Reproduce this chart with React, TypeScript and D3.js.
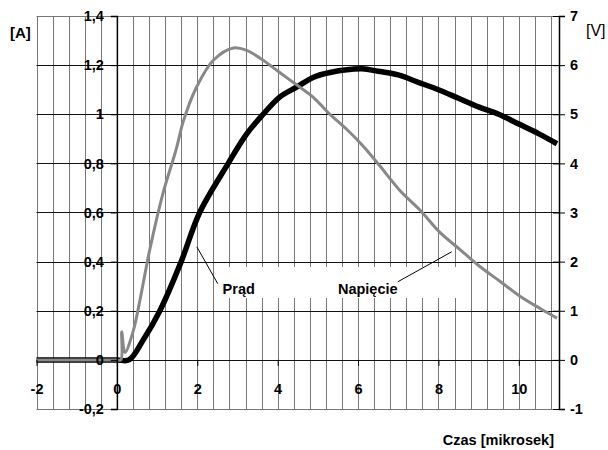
import React, { useEffect, useRef } from 'react';
import * as d3 from 'd3';

// Prąd (current, left axis, A)
const timePrad = [-2, -1, 0, 0.3, 0.65, 1.07, 1.6, 2.06, 2.77, 3.23, 3.64, 4.05, 4.47, 4.88, 5.3, 6.1, 6.5, 7.0, 7.5, 8.0, 8.5, 9.0, 9.5, 10.0, 10.5, 10.95];
const prad = [0, 0, 0, 0, 0.08, 0.2, 0.4, 0.6, 0.8, 0.92, 1.0, 1.07, 1.11, 1.15, 1.17, 1.185, 1.175, 1.16, 1.13, 1.1, 1.065, 1.03, 1.0, 0.96, 0.92, 0.88];

// Napięcie (voltage, right axis, V)
const timeNapiecie = [-2, -1, 0, 0.1, 0.12, 0.2, 0.41, 0.57, 0.82, 1.15, 1.48, 1.65, 1.98, 2.4, 2.9, 3.23, 3.64, 4.05, 4.47, 4.88, 5.3, 5.71, 6.13, 6.54, 7.04, 7.54, 8.03, 8.53, 9.03, 9.53, 10.02, 10.52, 10.95];
const napiecie = [0, 0, 0, 0, 0.57, 0.15, 0.6, 1.2, 2.25, 3.4, 4.3, 4.85, 5.55, 6.1, 6.35, 6.3, 6.1, 5.85, 5.6, 5.35, 5.0, 4.7, 4.35, 3.95, 3.45, 3.05, 2.6, 2.25, 1.9, 1.6, 1.3, 1.05, 0.85];

// axis ticks
const xTicks = [-2, 0, 2, 4, 6, 8, 10];
const ampTicks = [-0.2, 0, 0.2, 0.4, 0.6, 0.8, 1, 1.2, 1.4];
const voltTicks = [-1, 0, 1, 2, 3, 4, 5, 6, 7];

const FONT = '"Liberation Sans", Arial, sans-serif';

const App: React.FC = () => {
  const svgRef = useRef<SVGSVGElement>(null);

  useEffect(() => {
    if (!svgRef.current) return;
    const svg = d3.select(svgRef.current);
    svg.selectAll('*').remove();

    const x = d3.scaleLinear().domain([-2, 11]).range([36.5, 559]);
    const yA = d3.scaleLinear().domain([-0.2, 1.4]).range([409, 16]);
    const yV = d3.scaleLinear().domain([-1, 7]).range([409, 16]);

    svg.append('rect').attr('width', 608).attr('height', 450).attr('fill', '#fff');

    // vertical grid every 0.4 us
    const vGrid = d3.range(0, 33).map(i => -2 + i * 0.4);
    svg.append('g').selectAll('line').data(vGrid).enter().append('line')
      .attr('x1', d => Math.round(x(d)) + 0.5).attr('x2', d => Math.round(x(d)) + 0.5)
      .attr('y1', yA(1.4)).attr('y2', yA(-0.2))
      .attr('stroke', '#777').attr('stroke-width', 1);

    // horizontal grid
    svg.append('g').selectAll('line').data(ampTicks).enter().append('line')
      .attr('x1', x(-2)).attr('x2', x(11))
      .attr('y1', d => Math.round(yA(d)) + 0.5).attr('y2', d => Math.round(yA(d)) + 0.5)
      .attr('stroke', d => (d === -0.2 || d === 1.4 ? '#777' : '#111')).attr('stroke-width', 1);

    // white band behind annotation labels
    svg.append('rect')
      .attr('x', x(2.57)).attr('y', yA(0.378))
      .attr('width', x(8.45) - x(2.57)).attr('height', yA(0.252) - yA(0.378))
      .attr('fill', '#fff');

    // curves
    const pradLine = d3.line<number>()
      .x((_, i) => x(timePrad[i]))
      .y(d => yA(d))
      .curve(d3.curveCatmullRom.alpha(0.5));
    const napLine = d3.line<number>()
      .x((_, i) => x(timeNapiecie[i]))
      .y(d => yV(d))
      .curve(d3.curveCatmullRom.alpha(0.5));

    svg.append('path').datum(prad).attr('d', pradLine)
      .attr('fill', 'none').attr('stroke', '#000').attr('stroke-width', 5.5).attr('stroke-linejoin', 'round');
    svg.append('path').datum(napiecie).attr('d', napLine)
      .attr('fill', 'none').attr('stroke', '#888').attr('stroke-width', 3).attr('stroke-linejoin', 'round');

    // annotations
    svg.append('line')
      .attr('x1', x(1.99)).attr('y1', yA(0.46)).attr('x2', x(2.51)).attr('y2', yA(0.31))
      .attr('stroke', '#000').attr('stroke-width', 1);
    svg.append('text').attr('x', x(2.63)).attr('y', yA(0.27))
      .style('font-family', FONT).style('font-size', '14.5px').style('font-weight', 'bold')
      .text('Prąd');
    svg.append('line')
      .attr('x1', x(6.99)).attr('y1', yV(1.59)).attr('x2', x(8.33)).attr('y2', yV(2.2))
      .attr('stroke', '#000').attr('stroke-width', 1);
    svg.append('text').attr('x', x(5.5)).attr('y', yA(0.27))
      .style('font-family', FONT).style('font-size', '14.5px').style('font-weight', 'bold')
      .text('Napięcie');

    const fmtA = (d: d3.NumberValue) => String(+d).replace('.', ',');

    // left axis
    const gl = svg.append('g').attr('transform', `translate(${x(0)},0)`)
      .call(d3.axisLeft(yA).tickValues(ampTicks).tickFormat(fmtA).tickSize(6).tickPadding(7));
    // right axis
    const gr = svg.append('g').attr('transform', `translate(${x(11)},0)`)
      .call(d3.axisRight(yV).tickValues(voltTicks).tickFormat(d => String(d)).tickSize(6).tickPadding(5));
    gr.selectAll('.tick line').attr('x1', -6);
    // bottom axis
    const gb = svg.append('g').attr('transform', `translate(0,${yA(0)})`)
      .call(d3.axisBottom(x).tickValues(xTicks).tickFormat(d => String(d)).tickSize(6).tickPadding(18));
    gb.select('.domain').remove();

    [gl, gr, gb].forEach(g => {
      g.selectAll('text').style('font-family', FONT).style('font-size', '14.5px')
        .style('font-weight', 'bold').attr('fill', '#000');
      g.selectAll('line').attr('stroke', '#000');
      g.selectAll('.domain').attr('stroke', '#000').attr('stroke-width', 1.5);
    });

    // unit labels
    svg.append('text').attr('x', 10).attr('y', 38)
      .style('font-family', FONT).style('font-size', '15px').style('font-weight', 'bold')
      .text('[A]');
    svg.append('text').attr('x', 586).attr('y', 36)
      .style('font-family', FONT).style('font-size', '16px')
      .text('[V]');
    svg.append('text').attr('x', 554).attr('y', 445).attr('text-anchor', 'end')
      .style('font-family', FONT).style('font-size', '14.5px').style('font-weight', 'bold')
      .text('Czas [mikrosek]');
  }, []);

  return (
    <svg ref={svgRef} width={608} height={450}
      style={{ position: 'absolute', left: 0, top: 0, display: 'block' }} />
  );
};

export default App;
